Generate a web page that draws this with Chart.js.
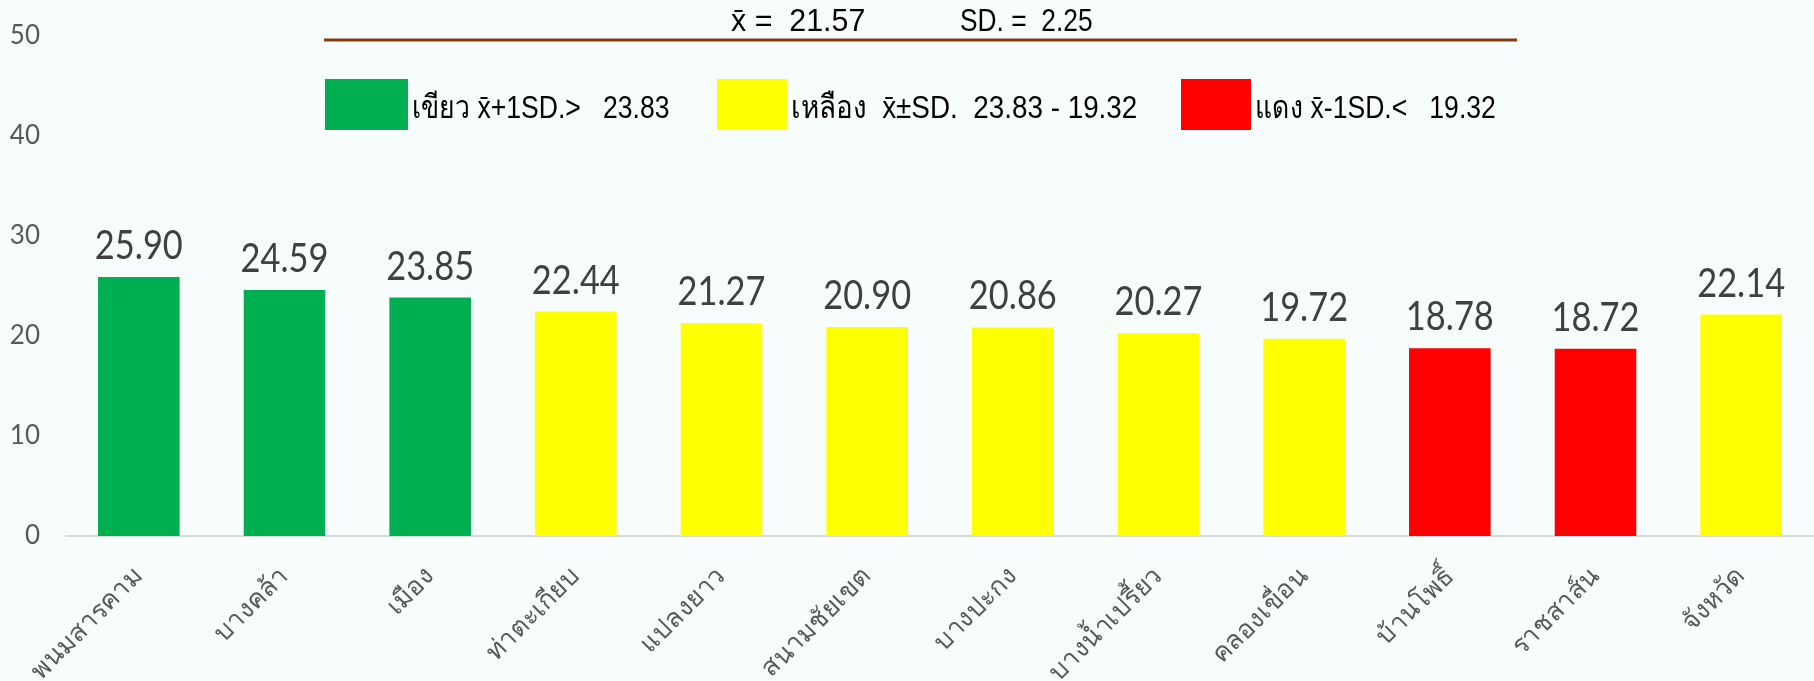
<!DOCTYPE html>
<html>
<head>
<meta charset="utf-8">
<script src="https://cdn.jsdelivr.net/npm/chart.js@4.4.1/dist/chart.umd.min.js"></script>
<style>
  html, body { margin: 0; padding: 0; background: #f7fdfd; }
  #wrap { width: 1814px; height: 681px; }
</style>
</head>
<body>
<div id="wrap"><canvas id="chart-1"></canvas></div>
<script>
const districts = ['พนมสารคาม', 'บางคล้า', 'เมือง', 'ท่าตะเกียบ', 'แปลงยาว', 'สนามชัยเขต',
  'บางปะกง', 'บางน้ำเปรี้ยว', 'คลองเขื่อน', 'บ้านโพธิ์', 'ราชสาส์น', 'จังหวัด'];
const scores = [25.90, 24.59, 23.85, 22.44, 21.27, 20.90, 20.86, 20.27, 19.72, 18.78, 18.72, 22.14];
const yTicks = [0, 10, 20, 30, 40, 50];

const meanText = 'x̄ =  21.57';
const sdText = 'SD. =  2.25';
const upperCut = 23.83;
const lowerCut = 19.32;
const legendTexts = ['เขียว x̄+1SD.>   23.83', 'เหลือง  x̄±SD.  23.83 - 19.32', 'แดง x̄-1SD.<   19.32'];
const legendColors = ['#00b050', '#ffff00', '#ff0000'];

let barColors = scores.map(v => v > upperCut ? legendColors[0] : (v < lowerCut ? legendColors[2] : legendColors[1]));

// narrow-looking text: squeeze horizontally
function narrowText(ctx, text, x, y, squeeze) {
    ctx.save();
    ctx.translate(x, y);
    ctx.scale(squeeze, 1);
    ctx.fillText(text, 0, 0);
    ctx.restore();
}

// numbers above the bars
const valueLabels = {
    id: 'valueLabels',
    afterDatasetsDraw(chart) {
        let ctx = chart.ctx;
        ctx.save();
        ctx.font = '40px Lato';
        ctx.fillStyle = '#404040';
        ctx.textAlign = 'center';
        ctx.textBaseline = 'alphabetic';
        chart.getDatasetMeta(0).data.forEach((bar, i) => {
            narrowText(ctx, scores[i].toFixed(2), bar.x, bar.y - 18, 0.86);
        });
        ctx.restore();
    }
};

// mean / SD line and colour key at the top
const header = {
    id: 'header',
    afterDraw(chart) {
        let ctx = chart.ctx;
        ctx.save();
        ctx.fillStyle = '#000';
        ctx.textBaseline = 'middle';
        ctx.font = '31px "Liberation Sans", sans-serif';
        narrowText(ctx, meanText, 731, 22, 0.98);
        narrowText(ctx, sdText, 960, 22, 0.85);

        ctx.strokeStyle = '#843c0c';
        ctx.lineWidth = 3;
        ctx.beginPath();
        ctx.moveTo(324, 40);
        ctx.lineTo(1517, 40);
        ctx.stroke();

        ctx.font = '32px "Liberation Sans", sans-serif';
        let boxX = [325, 717, 1181];
        let boxW = [83, 70, 70];
        let squeeze = [0.83, 0.87, 0.83];
        legendTexts.forEach((t, i) => {
            ctx.fillStyle = legendColors[i];
            ctx.fillRect(boxX[i], 79, boxW[i], 51);
            ctx.fillStyle = '#000';
            narrowText(ctx, t, boxX[i] + boxW[i] + 4, 109, squeeze[i]);
        });
        ctx.restore();
    }
};

let chart_1 = document.getElementById('chart-1');

new Chart(chart_1, {
    type: 'bar',
    data: {
        labels: districts,
        datasets: [{
            data: scores,
            backgroundColor: barColors,
            borderWidth: 0,
            barPercentage: 0.56,
            categoryPercentage: 1
        }]
    },
    options: {
        responsive: true,
        maintainAspectRatio: false,
        animation: false,
        layout: { padding: { top: 36, right: 0, left: 0, bottom: 0 } },
        plugins: {
            legend: { display: false },
            title: { display: false },
            tooltip: { enabled: false }
        },
        scales: {
            x: {
                grid: { display: false, drawTicks: false },
                border: { display: true, color: '#d9d9d9', width: 2 },
                ticks: {
                    color: '#595959',
                    font: { family: 'Noto Sans', size: 26 },
                    minRotation: 45,
                    maxRotation: 45,
                    padding: 25
                },
                afterFit(scale) { scale.height = 145; }
            },
            y: {
                min: 0,
                max: 50,
                afterBuildTicks(scale) { scale.ticks = yTicks.map(v => ({ value: v })); },
                grid: { display: false, drawTicks: false },
                border: { display: false },
                ticks: {
                    color: '#595959',
                    font: { family: 'Lato', size: 26 },
                    padding: 26
                },
                afterFit(scale) {
                    scale.width = 66;
                    scale.paddingTop = 12;
                    scale.paddingBottom = 12;
                }
            }
        }
    },
    plugins: [valueLabels, header]
});
</script>
</body>
</html>
